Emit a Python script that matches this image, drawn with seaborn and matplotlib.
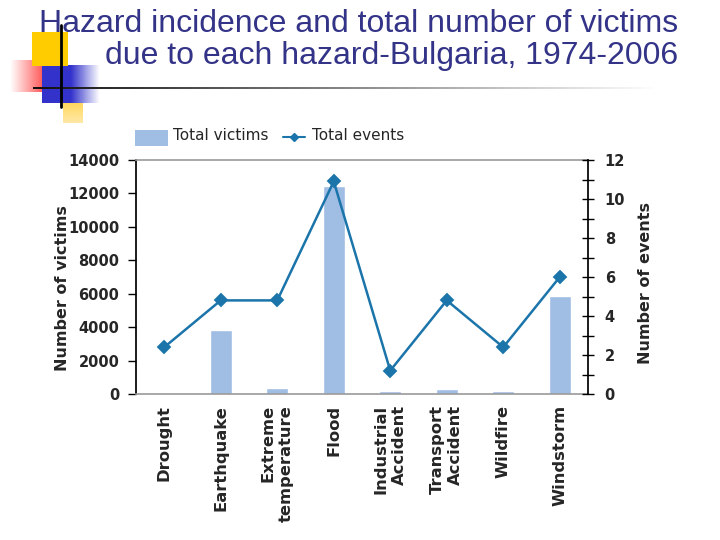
import numpy as np
import pandas as pd
import matplotlib
matplotlib.use("Agg")
import matplotlib.pyplot as plt
import seaborn as sns
from matplotlib.patches import Rectangle
from matplotlib.lines import Line2D
from matplotlib.ticker import MultipleLocator

categories = ["Drought", "Earthquake", "Extreme\ntemperature", "Flood",
              "Industrial\nAccident", "Transport\nAccident", "Wildfire", "Windstorm"]
total_victims = [0, 3830, 380, 12460, 180, 300, 180, 5880]
total_events = [2.4, 4.8, 4.8, 10.9, 1.2, 4.8, 2.4, 6.0]
victim_ticks = [0, 2000, 4000, 6000, 8000, 10000, 12000, 14000]
event_ticks = [0, 2, 4, 6, 8, 10, 12]
legend_labels = ["Total victims", "Total events"]

title_text = "Hazard incidence and total number of victims\ndue to each hazard-Bulgaria, 1974-2006"

BAR = "#a0bde4"
LINE = "#1b75aa"
TITLE = "#333388"

sns.set_theme(style="white")
plt.rcParams['font.family'] = ['DejaVu Sans']

fig = plt.figure(figsize=(7.2, 5.4), dpi=100)
ax = fig.add_axes([136/720, 1-394/540, (588-136)/720, (394-160)/540])

df = pd.DataFrame({"cat": categories, "victims": total_victims, "events": total_events})
sns.barplot(data=df, x="cat", y="victims", ax=ax, color=BAR, saturation=1, width=0.39)
ax.set_ylim(0, 14000)
ax.set_xlim(-0.5, len(categories) - 0.5)
ax.set_yticks(victim_ticks)
ax.set_yticklabels([str(v) for v in victim_ticks], fontsize=10.5, fontweight="bold")
ax.set_xlabel("")
ax.set_ylabel("")
ax.set_xticks(range(len(categories)))
ax.set_xticklabels(categories, rotation=90, fontsize=11.8, fontweight="bold",
                   va="top", ha="center", multialignment="right", linespacing=1.25)
ax.tick_params(axis="x", length=0, pad=8)
ax.tick_params(axis="y", direction="out", length=6, width=1, color="black", pad=6, left=True)
for s in ["top", "bottom"]:
    ax.spines[s].set_color("#999999")
    ax.spines[s].set_linewidth(1.2)
ax.spines["left"].set_color("black")
ax.spines["right"].set_visible(False)

ax2 = ax.twinx()
sns.pointplot(data=df, x="cat", y="events", ax=ax2, color=LINE, markers="D",
              linestyles="-", markersize=6, linewidth=1.8)
ax2.set_ylim(0, 12)
ax2.set_xlim(-0.5, len(categories) - 0.5)
ax2.set_yticks(event_ticks)
ax2.yaxis.set_minor_locator(MultipleLocator(1))
ax2.set_yticklabels([str(v) for v in event_ticks], fontsize=10.5, fontweight="bold")
ax2.set_ylabel("")
ax2.set_xlabel("")
ax2.tick_params(axis="y", which="both", direction="inout", length=8, width=1, color="black", pad=8, right=True)
ax2.spines["right"].set_color("black")
for s in ["top", "bottom", "left"]:
    ax2.spines[s].set_visible(False)
ax2.grid(False)
ax.grid(False)

fig.text(63/720, 1-288/540, "Number of victims", rotation=90, fontsize=11.5,
         fontweight="bold", ha="center", va="center")
fig.text(645/720, 1-283/540, "Number of events", rotation=90, fontsize=11.5,
         fontweight="bold", ha="center", va="center")

# legend (drawn manually to match handle sizes)
fig.patches.append(Rectangle((135/720, 1-146/540), 33/720, 16/540,
                             transform=fig.transFigure, facecolor=BAR, edgecolor="none"))
fig.text(173/720, 1-136/540, legend_labels[0], fontsize=11, ha="left", va="center")
fig.add_artist(Line2D([283/720, 305/720], [1-137/540, 1-137/540], color=LINE, lw=1.5))
fig.add_artist(Line2D([294/720], [1-137/540], color=LINE, marker="D", markersize=4.5, lw=0))
fig.text(312/720, 1-136/540, legend_labels[1], fontsize=11, ha="left", va="center")

# title
fig.text(678/720, 1-40/540, title_text, ha="right", va="center", fontsize=23,
         color=TITLE, family=["Liberation Sans", "DejaVu Sans"], linespacing=1.13,
         multialignment="right")

# decoration
def frect(x0, y0, x1, y1, **kw):
    fig.patches.append(Rectangle((x0/720, 1-y1/540), (x1-x0)/720, (y1-y0)/540,
                                 transform=fig.transFigure, zorder=-1, **kw))

frect(32, 32, 68, 66, facecolor="#ffcc00", edgecolor="none")
grad = np.linspace(0, 1, 64).reshape(1, -1)
grad_v = np.linspace(0, 1, 64).reshape(-1, 1)
axy = fig.add_axes([63/720, 1-123/540, 20/720, 30/540], zorder=-2)
axy.imshow(grad_v, aspect="auto", cmap=matplotlib.colors.LinearSegmentedColormap.from_list("y", ["#ffcc33", "#ffe9a8"]))
axy.axis("off")
axr = fig.add_axes([10/720, 1-92/540, 45/720, 32/540], zorder=-1)
axr.imshow(grad[:, ::-1], aspect="auto", cmap=matplotlib.colors.LinearSegmentedColormap.from_list("r", ["#ff1a1a", "#ffffff"]))
axr.axis("off")
axb = fig.add_axes([42/720, 1-103/540, 58/720, 38/540], zorder=-1)
axb.imshow(grad, aspect="auto", cmap=matplotlib.colors.LinearSegmentedColormap.from_list("b", ["#3333cc", "#3333cc", "#ffffff"]))
axb.axis("off")
fig.add_artist(Line2D([61/720, 61/720], [1-25/540, 1-107/540], color="black", lw=2))
axl = fig.add_axes([33/720, 1-89.5/540, 630/720, 3/540], zorder=-1)
axl.imshow(grad, aspect="auto", cmap=matplotlib.colors.LinearSegmentedColormap.from_list("g", ["#111111", "#888888", "#ffffff"]))
axl.axis("off")

fig.savefig("out.png", dpi=100)
